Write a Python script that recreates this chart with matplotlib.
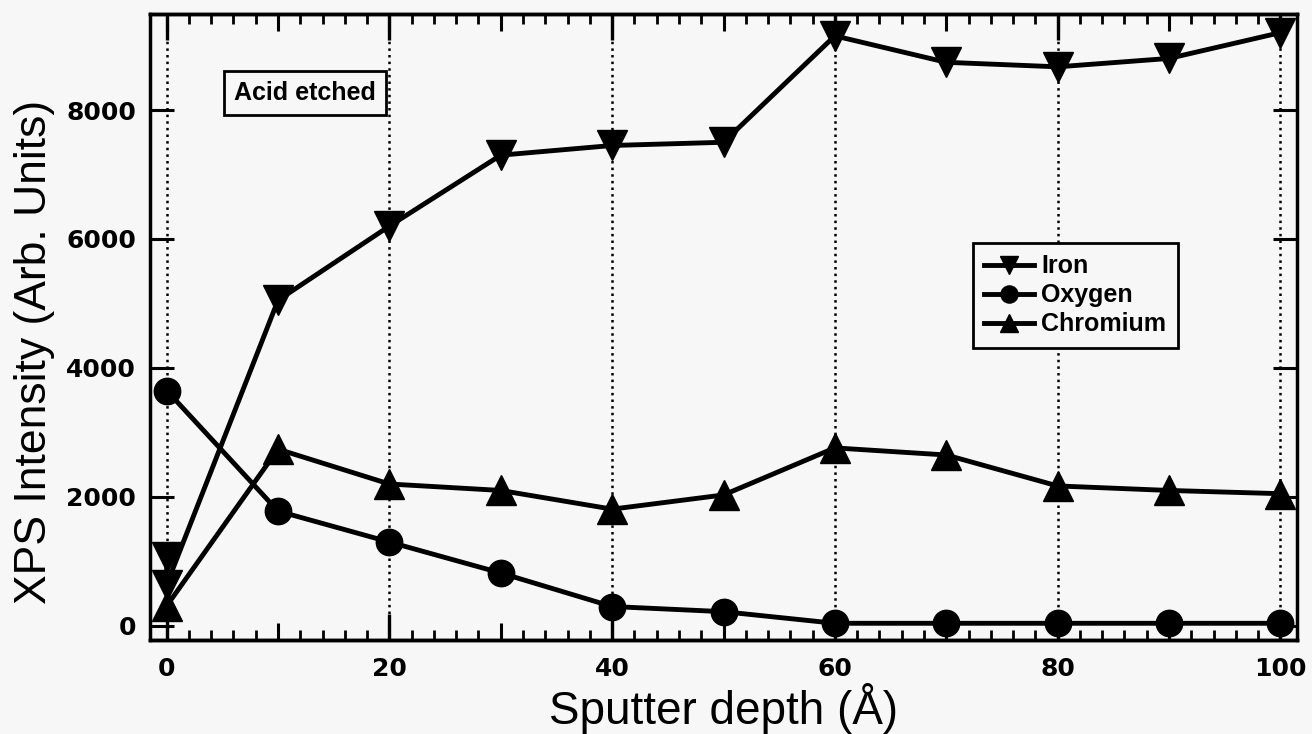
import numpy as np
import matplotlib.pyplot as plt
from matplotlib.ticker import MultipleLocator, FuncFormatter

# sputter depth (A)
depth = [0, 10, 20, 30, 40, 50, 60, 70, 80, 90, 100]
iron_depth = [0, 0, 10, 20, 30, 40, 50, 60, 70, 80, 90, 100]
iron = [1070, 640, 5050, 6200, 7300, 7450, 7500, 9150, 8740, 8670, 8800, 9200]
oxygen = [3650, 1780, 1300, 820, 300, 220, 40, 40, 40, 40, 40]
chromium = [310, 2740, 2200, 2100, 1810, 2030, 2760, 2650, 2170, 2100, 2050]
xlabels_at = [0, 20, 40, 60, 80, 100]

bg = '#f7f7f7'
plt.rcParams['font.family'] = ['Liberation Sans', 'DejaVu Sans']

fig = plt.figure(figsize=(13.12, 7.34), dpi=100, facecolor=bg)
ax = fig.add_axes([0.1143, 0.128, 0.8743, 0.853], facecolor=bg)

ax.plot(iron_depth, iron, color='black', lw=3.5, marker='v', ms=21, label='Iron', zorder=3)
ax.plot(depth, oxygen, color='black', lw=3.5, marker='o', ms=19, label='Oxygen', zorder=3)
ax.plot(depth, chromium, color='black', lw=3.5, marker='^', ms=21, label='Chromium', zorder=3)

ax.set_xlim(-1.5, 101.5)
ax.set_ylim(-220, 9490)
ax.xaxis.set_major_locator(MultipleLocator(10))
ax.xaxis.set_minor_locator(MultipleLocator(2))
ax.xaxis.set_major_formatter(FuncFormatter(lambda v, p: '%d' % v if round(v) % 20 == 0 else ''))
ax.yaxis.set_major_locator(MultipleLocator(2000))

for xv in xlabels_at:
    ax.axvline(xv, linestyle=':', color='black', lw=1.8, zorder=1)

ax.tick_params(axis='x', which='major', direction='in', length=12, width=2.2,
               top=True, pad=12, labelsize=18)
ax.tick_params(axis='x', which='minor', direction='in', length=7, width=2, top=True)
ax.tick_params(axis='y', which='major', direction='in', length=17, width=2.2,
               right=True, pad=10, labelsize=18)
for lab in ax.get_xticklabels() + ax.get_yticklabels():
    lab.set_family('DejaVu Sans')
    lab.set_fontweight('bold')
for s in ax.spines.values():
    s.set_linewidth(2.5)

# longer ticks at the labelled positions, top and bottom
for loc in ['bottom', 'top']:
    sec = ax.secondary_xaxis(loc)
    sec.set_xticks(xlabels_at)
    sec.tick_params(direction='in', length=19, width=2.4, labelbottom=False, labeltop=False)
    sec.spines[loc].set_linewidth(2.5)

ax.set_xlabel('Sputter depth (Å)', fontsize=33, labelpad=2)
ax.set_ylabel('XPS Intensity (Arb. Units)', fontsize=32)
ax.yaxis.set_label_coords(-0.083, 0.46)

ax.text(12.4, 8260, 'Acid etched', fontsize=18, fontweight='bold', ha='center', va='center',
        bbox=dict(boxstyle='square,pad=0.4', facecolor=bg, edgecolor='black', lw=2))

leg = ax.legend(loc='upper right', bbox_to_anchor=(0.896, 0.634), borderaxespad=0,
                prop={'weight': 'bold', 'size': 18}, markerscale=0.65,
                handlelength=2.0, labelspacing=0.2, handletextpad=0.3, borderpad=0.45,
                fancybox=False, framealpha=1, facecolor=bg, edgecolor='black')
leg.get_frame().set_linewidth(2)

plt.savefig('out.png', dpi=100, facecolor=bg)
